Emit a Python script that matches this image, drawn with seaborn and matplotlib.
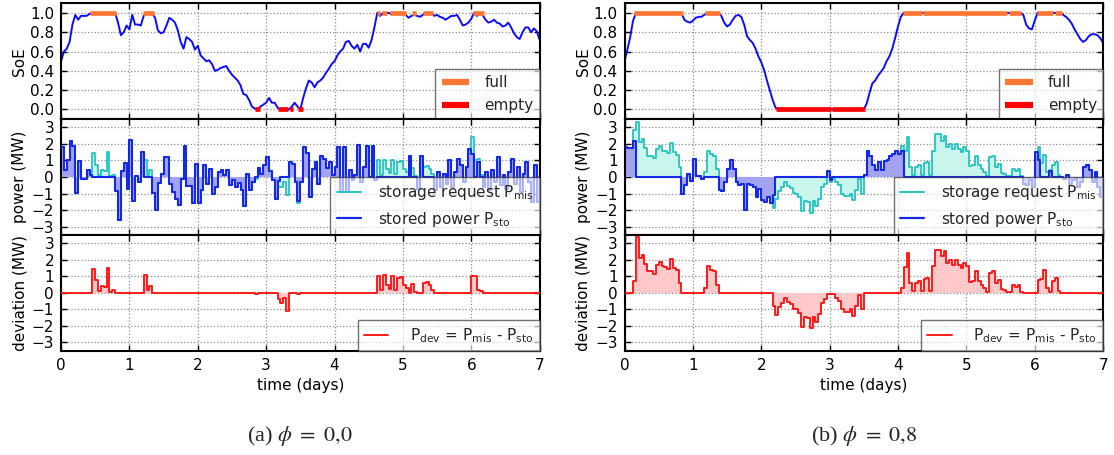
import numpy as np
import pandas as pd
import matplotlib
matplotlib.use("Agg")
import matplotlib.pyplot as plt
from matplotlib.lines import Line2D
import seaborn as sns

# ---------------------------------------------------------------------------
# Hourly data over one week (168 hourly steps, 169 state samples)
# ---------------------------------------------------------------------------

# (a) phi = 0.0 : storage request and stored power [MW]
p_mis_a = [
    1.8, 0.4, 1.0, 2.2, 1.9, -0.95, 0.95, -0.1, -0.1, 0.4,
    0.1, 1.45, 0.75, 0.1, 0.4, 0.35, 1.5, 0.05, 0.15, -0.85,
    -2.6, 0.35, 0.85, -0.7, 2.25, -1.45, 0.05, -0.3, 1.5, 1.05,
    0.15, 0.4, -0.95, -2.0, -0.35, 0.2, 1.2, 1.2, -0.4, -0.9,
    -1.3, -1.7, -0.1, 1.9, -0.55, -0.55, -1.6, 0.8, -1.55, -0.8,
    0.7, -0.45, 0.5, -1.0, -0.6, 0.3, 0.45, 0.1, 0.45, -0.5,
    -0.2, -0.6, -0.35, -0.8, -1.75, 0.2, -0.8, -0.3, -0.1, 0.55,
    0.2, 0.75, 1.2, 0.35, -0.2, -1.3, -0.6, -0.6, -0.3, -1.1,
    0.9, 0.8, -0.3, -1.55, -0.3, 1.8, 1.45, -1.2, 0.5, 0.9,
    -0.4, 1.3, 1.1, 0.55, 0.9, 0.1, 0.6, 1.8, -0.9, 1.8,
    -0.9, 0.4, -0.2, 0.1, 1.95, -0.3, 0.6, 1.85, 0.0, 1.9,
    -0.2, 1.0, 0.15, 1.05, 0.5, 0.25, 1.0, 0.2, 0.9, 0.95,
    0.5, 0.3, 1.3, 0.55, 0.05, -0.7, 1.3, 0.6, 0.65, 0.5,
    0.2, -0.8, 0.3, -0.6, 0.2, -0.4, 1.0, -0.6, 0.3, 1.1,
    0.7, -0.3, 0.6, 1.7, 2.4, 1.0, 1.1, 0.1, -0.6, 0.3,
    -0.8, 0.4, -0.3, 1.2, -0.5, 0.1, -0.7, 0.3, 1.1, -0.4,
    0.6, -0.9, 0.2, 0.9, -0.3, -1.5, 0.7, -1.5,
]
p_sto_a = [
    1.8, 0.4, 1.0, 2.2, 1.9, -0.95, 0.95, -0.1, -0.1, 0.4,
    0.1, 0.0, 0.0, 0.0, 0.0, 0.0, 0.0, 0.0, 0.0, -0.85,
    -2.6, 0.35, 0.85, -0.7, 2.25, -1.45, 0.05, -0.3, 1.5, 0.0,
    0.0, 0.0, -0.95, -2.0, -0.35, 0.2, 1.2, 1.2, -0.4, -0.9,
    -1.3, -1.7, -0.1, 1.9, -0.55, -0.55, -1.6, 0.8, -1.55, -0.8,
    0.7, -0.45, 0.5, -1.0, -0.6, 0.3, 0.45, 0.1, 0.45, -0.5,
    -0.2, -0.6, -0.35, -0.8, -1.75, 0.2, -0.8, -0.3, 0.0, 0.55,
    0.2, 0.75, 1.2, 0.35, -0.2, -1.3, -0.25, 0.0, 0.0, 0.0,
    0.9, 0.8, -0.3, -1.45, -0.3, 1.8, 1.45, -1.2, 0.5, 0.9,
    -0.4, 1.3, 1.1, 0.55, 0.9, 0.1, 0.6, 1.8, -0.9, 1.8,
    -0.9, 0.4, -0.2, 0.1, 1.95, -0.3, 0.6, 1.85, 0.0, 1.9,
    -0.2, 0.0, 0.0, 0.0, 0.0, 0.0, 0.0, 0.0, 0.0, 0.0,
    0.0, 0.0, 1.3, 0.0, 0.0, -0.7, 1.3, 0.0, 0.0, 0.0,
    0.0, -0.8, 0.3, -0.6, 0.2, -0.4, 1.0, -0.6, 0.3, 1.1,
    0.7, -0.3, 0.6, 1.7, 1.4, 0.0, 0.9, 0.0, -0.6, 0.3,
    -0.8, 0.4, -0.3, 1.2, -0.5, 0.1, -0.7, 0.3, 1.1, -0.4,
    0.6, -0.9, 0.2, 0.9, -0.3, -1.5, 0.7, -1.5,
]

# (a) state of energy (normalised)
soe_a = [
    0.50, 0.60, 0.63, 0.70, 0.88, 0.98, 0.93, 0.97, 0.97, 0.97,
    0.99, 1.00, 1.00, 1.00, 1.00, 1.00, 1.00, 1.00, 1.00, 1.00,
    0.90, 0.77, 0.80, 0.87, 0.83, 0.98, 0.88, 0.88, 0.87, 0.97,
    1.00, 1.00, 1.00, 0.95, 0.82, 0.79, 0.80, 0.87, 0.95, 0.93,
    0.90, 0.82, 0.70, 0.63, 0.75, 0.73, 0.70, 0.62, 0.66, 0.56,
    0.53, 0.50, 0.51, 0.47, 0.40, 0.41, 0.43, 0.44, 0.45, 0.40,
    0.36, 0.33, 0.30, 0.25, 0.16, 0.15, 0.10, 0.03, 0.01, 0.00,
    0.03, 0.05, 0.07, 0.12, 0.07, 0.07, 0.02, 0.00, 0.00, 0.00,
    0.00, 0.03, 0.07, 0.03, 0.00, 0.12, 0.22, 0.30, 0.28, 0.23,
    0.28, 0.30, 0.33, 0.38, 0.42, 0.47, 0.50, 0.56, 0.60, 0.63,
    0.70, 0.71, 0.66, 0.63, 0.67, 0.60, 0.68, 0.68, 0.64, 0.72,
    0.85, 1.00, 0.97, 1.00, 1.00, 1.00, 0.99, 1.00, 1.00, 1.00,
    1.00, 0.98, 0.95, 0.97, 0.98, 0.97, 0.96, 0.98, 1.00, 1.00,
    1.00, 0.97, 0.98, 0.96, 0.95, 0.93, 0.95, 0.97, 0.97, 0.98,
    0.93, 0.87, 0.88, 0.90, 0.94, 1.00, 0.97, 0.99, 0.98, 0.93,
    0.90, 0.91, 0.93, 0.90, 0.89, 0.86, 0.87, 0.90, 0.85, 0.79,
    0.75, 0.73, 0.80, 0.85, 0.85, 0.80, 0.84, 0.81, 0.72,
]

# (a) storage full / empty intervals [days]
full_start_a = [0.42, 1.20, 4.62, 4.69, 4.81, 5.14, 5.29, 6.02]
full_end_a = [0.81, 1.36, 4.67, 4.77, 5.05, 5.19, 5.44, 6.18]
empty_start_a = [2.84, 3.17, 3.35, 3.46]
empty_end_a = [2.91, 3.32, 3.40, 3.54]

# (b) phi = 0.8 : storage request and stored power [MW]
p_mis_b = [
    1.8, 1.75, 1.75, 2.85, 3.35, 2.1, 2.3, 1.75, 1.3, 1.3,
    1.15, 1.7, 1.85, 1.6, 1.55, 1.45, 2.05, 1.5, 1.35, 0.6,
    -1.05, -0.5, 0.2, -0.25, 1.1, 0.05, 0.05, -0.1, 0.3, 1.6,
    1.4, 1.3, 0.5, -0.8, -0.85, -0.3, 0.5, 1.0, 0.5, -0.3,
    -0.5, -0.45, -2.0, -0.4, -0.5, -0.6, -1.2, -0.7, -1.4, -1.5,
    -1.2, -1.6, -1.9, -1.35, -0.85, -0.6, -0.3, -0.55, -0.65, -0.95,
    -1.0, -1.2, -2.05, -1.45, -1.5, -2.15, -1.45, -1.75, -1.3, -0.6,
    -0.4, 0.3, -0.3, -0.1, -0.3, -0.5, -1.0, -1.15, -1.15, -1.0,
    -1.4, -0.8, -0.15, -1.0, 0.1, 1.6, 1.25, 0.75, 0.4, 0.9,
    0.4, 0.95, 1.0, 1.3, 1.4, 1.55, 1.4, 1.9, 1.55, 2.4,
    0.6, 0.1, 0.6, 0.7, 0.1, 0.85, 0.9, 0.1, 1.6, 2.6,
    2.6, 2.2, 2.5, 1.8, 2.0, 1.7, 2.0, 1.7, 1.5, 1.8,
    1.6, 0.65, 0.7, 1.3, 0.7, 0.5, 0.3, 0.05, 1.2, 1.3,
    0.6, 0.8, 0.25, 0.2, 0.05, 0.05, 0.5, 0.35, 0.5, 0.05,
    -0.4, -0.5, -0.2, -0.6, 1.5, 1.8, 0.85, 1.35, 0.3, 0.4,
    0.7, 0.9, 0.1, 0.0, -0.1, 0.15, -0.4, -0.2, -0.1, -0.6,
    -0.3, 0.6, 0.7, 0.45, -0.3, 0.3, -0.6, -1.2,
]
p_sto_b = [
    1.8, 1.75, 1.75, 2.15, 0.0, 0.0, 0.0, 0.0, 0.0, 0.0,
    0.0, 0.0, 0.0, 0.0, 0.0, 0.0, 0.0, 0.0, 0.0, 0.0,
    -1.05, -0.5, 0.2, -0.25, 1.1, 0.05, 0.05, -0.1, 0.0, 0.0,
    0.0, 0.0, 0.0, -0.8, -0.85, -0.3, 0.5, 1.0, 0.5, -0.3,
    -0.5, -0.45, -2.0, -0.4, -0.5, -0.6, -1.2, -0.7, -1.4, -1.5,
    -1.2, -1.6, -1.1, 0.0, 0.0, 0.0, 0.0, 0.0, 0.0, 0.0,
    0.0, 0.0, 0.0, 0.0, 0.0, 0.0, 0.0, 0.0, 0.0, 0.0,
    0.0, 0.35, -0.2, 0.0, 0.0, 0.0, 0.0, 0.0, 0.0, 0.0,
    0.0, 0.0, 0.0, 0.0, 0.1, 1.6, 1.25, 0.75, 0.4, 0.9,
    0.4, 0.95, 1.0, 1.3, 1.4, 1.55, 1.4, 1.6, 0.0, 0.0,
    0.0, 0.0, 0.0, 0.0, 0.0, 0.0, 0.0, 0.0, 0.0, 0.0,
    0.0, 0.0, 0.0, 0.0, 0.0, 0.0, 0.0, 0.0, 0.0, 0.0,
    0.0, 0.0, 0.0, 0.0, 0.0, 0.0, 0.0, 0.0, 0.0, 0.0,
    0.0, 0.0, 0.0, 0.0, 0.0, 0.0, 0.0, 0.0, 0.0, 0.0,
    -0.4, -0.5, -0.2, -0.6, 1.5, 1.0, 0.0, 0.0, 0.0, 0.35,
    0.0, 0.0, 0.0, 0.0, -0.1, 0.15, -0.4, -0.2, -0.1, -0.6,
    -0.3, 0.6, 0.7, 0.45, -0.3, 0.3, -0.6, -1.2,
]

# (b) state of energy (normalised)
soe_b = (
    [0.50, 0.62, 0.75, 0.92]
    + [1.00] * 17
    + [0.93, 0.91, 0.90, 0.92, 0.95, 0.96, 0.96, 0.98]
    + [1.00] * 5
    + [0.97, 0.90, 0.86, 0.88, 0.93, 0.97, 0.98, 0.96, 0.88, 0.76,
       0.72, 0.69, 0.63, 0.55, 0.49, 0.41, 0.30, 0.20, 0.10, 0.02]
    + [0.00] * 18
    + [0.01]
    + [0.00] * 12
    + [0.06, 0.17, 0.27, 0.30, 0.35, 0.39, 0.43, 0.50, 0.55, 0.63,
       0.74, 0.86, 0.96]
    + [1.00] * 42
    + [0.98, 0.88, 0.84, 0.83, 0.92]
    + [1.00] * 9
    + [0.98, 0.96, 0.93, 0.89, 0.83, 0.78, 0.73, 0.70, 0.72, 0.76,
       0.78, 0.78, 0.77, 0.74, 0.69]
)

# (b) storage full / empty intervals [days]
full_start_b = [0.14, 1.18, 4.07, 4.37, 5.63, 6.04, 6.29]
full_end_b = [0.86, 1.40, 4.35, 5.60, 5.80, 6.27, 6.40]
empty_start_b = [2.22, 3.04]
empty_end_b = [3.02, 3.52]

captions = [r"(a) $\phi\ =\ 0{,}0$", r"(b) $\phi\ =\ 0{,}8$"]

# ---------------------------------------------------------------------------
# Styling
# ---------------------------------------------------------------------------
sns.set_style("white")
plt.rcParams.update({
    "font.family": ["DejaVu Sans"],
    "font.size": 11,
    "mathtext.fontset": "stix",
    "axes.edgecolor": "black",
    "axes.linewidth": 1.5,
    "axes.grid": True,
    "grid.color": "0.55",
    "grid.linestyle": ":",
    "grid.linewidth": 0.9,
    "xtick.direction": "in",
    "ytick.direction": "in",
    "xtick.bottom": True,
    "xtick.top": True,
    "ytick.left": True,
    "ytick.right": True,
    "xtick.major.size": 4,
    "ytick.major.size": 4,
    "xtick.major.width": 1.0,
    "ytick.major.width": 1.0,
    "xtick.major.pad": 5,
    "ytick.major.pad": 5,
    "xtick.color": "black",
    "ytick.color": "black",
    "xtick.labelsize": 11,
    "ytick.labelsize": 11,
    "axes.labelsize": 11,
    "axes.labelcolor": "black",
    "legend.fontsize": 11,
    "legend.fancybox": False,
    "legend.edgecolor": "0.15",
    "legend.framealpha": 0.65,
})

SOE_BLUE = "#0c0cff"
STO_BLUE = "#1428e8"
MIS_CYAN = "#22c4c0"
MIS_FILL = "#c9f6ec"
STO_FILL = "#a3a3f2"
DEV_RED = "#ff1a1a"
DEV_FILL = "#ffc9c9"
FULL_C = "#ff7733"
EMPTY_C = "#ff0000"


def step_frame(values):
    """Hourly step values extended to the end of the last hour."""
    v = np.asarray(values, dtype=float)
    t = np.arange(len(v) + 1) / 24.0
    return pd.DataFrame({"t": t, "v": np.append(v, v[-1])})


def draw_panel(axes, soe, fs, fe, es, ee, p_mis, p_sto):
    ax0, ax1, ax2 = axes
    p_mis = np.asarray(p_mis, dtype=float)
    p_sto = np.asarray(p_sto, dtype=float)
    p_dev = p_mis - p_sto

    # --- state of energy ---------------------------------------------------
    soe_df = pd.DataFrame({"t": np.arange(len(soe)) / 24.0, "soe": soe})
    sns.lineplot(data=soe_df, x="t", y="soe", ax=ax0, color=SOE_BLUE,
                 lw=1.4, estimator=None, sort=False)
    ax0.hlines(np.ones(len(fs)), fs, fe, color=FULL_C, lw=3.4,
               capstyle="butt", zorder=4)
    ax0.hlines(np.zeros(len(es)), es, ee, color=EMPTY_C, lw=3.4,
               capstyle="butt", zorder=4)
    ax0.set_ylim(-0.1, 1.1)
    ax0.set_yticks(np.arange(0, 1.01, 0.2))
    ax0.set_ylabel("SoE")
    ax0.legend(handles=[Line2D([], [], color=FULL_C, lw=4.5, solid_capstyle="butt"),
                        Line2D([], [], color=EMPTY_C, lw=4.5, solid_capstyle="butt")],
               labels=["full", "empty"], loc="lower right", borderaxespad=0,
               handlelength=1.8, handletextpad=1.0)

    # --- power -------------------------------------------------------------
    mis_df = step_frame(p_mis)
    sto_df = step_frame(p_sto)
    ax1.fill_between(mis_df["t"], mis_df["v"], sto_df["v"], step="post",
                     color=MIS_FILL, lw=0, zorder=1)
    ax1.fill_between(sto_df["t"], sto_df["v"], 0, step="post",
                     color=STO_FILL, lw=0, zorder=1.5)
    sns.lineplot(data=mis_df, x="t", y="v", ax=ax1, color=MIS_CYAN, lw=1.3,
                 drawstyle="steps-post", estimator=None, sort=False, zorder=2)
    sns.lineplot(data=sto_df, x="t", y="v", ax=ax1, color=STO_BLUE, lw=1.5,
                 drawstyle="steps-post", estimator=None, sort=False, zorder=3)
    ax1.set_ylim(-3.5, 3.5)
    ax1.set_yticks(np.arange(-3, 4, 1))
    ax1.set_ylabel("power (MW)")
    ax1.legend(handles=[Line2D([], [], color=MIS_CYAN, lw=1.4),
                        Line2D([], [], color=STO_BLUE, lw=1.6)],
               labels=[r"storage request P$_\mathregular{mis}$",
                       r"stored power P$_\mathregular{sto}$"],
               loc="lower right", borderaxespad=0, handlelength=1.6,
               handletextpad=1.1)

    # --- deviation ---------------------------------------------------------
    dev_df = step_frame(p_dev)
    ax2.fill_between(dev_df["t"], dev_df["v"], 0, step="post",
                     color=DEV_FILL, lw=0, zorder=1)
    sns.lineplot(data=dev_df, x="t", y="v", ax=ax2, color=DEV_RED, lw=1.4,
                 drawstyle="steps-post", estimator=None, sort=False, zorder=3)
    ax2.set_ylim(-3.5, 3.5)
    ax2.set_yticks(np.arange(-3, 4, 1))
    ax2.set_ylabel("deviation (MW)")
    ax2.legend(handles=[Line2D([], [], color=DEV_RED, lw=1.4)],
               labels=[r"P$_\mathregular{dev}$ = P$_\mathregular{mis}$ - P$_\mathregular{sto}$"],
               loc="lower right", borderaxespad=0, handlelength=1.6,
               handletextpad=1.4)
    ax2.set_xlabel("time (days)")

    for ax in axes:
        ax.set_xlim(0, 7)
        ax.set_xticks(range(8))
        ax.set_axisbelow(True)
        ax.grid(True, which="major")
        ax.yaxis.set_label_coords(-0.071, 0.5)
        ax.yaxis.label.set_va("bottom")
        for s in ax.spines.values():
            s.set_linewidth(1.5)
            s.set_color("black")
    for ax in (ax0, ax1):
        ax.tick_params(labelbottom=False)
        ax.set_xlabel("")


fig = plt.figure(figsize=(11.14, 4.55), dpi=100)
row_h = 0.2545
bottoms = [0.2292 + 2 * row_h, 0.2292 + row_h, 0.2292]
lefts = [0.0548, 0.5606]
width = 0.4296

panels = [
    (soe_a, full_start_a, full_end_a, empty_start_a, empty_end_a, p_mis_a, p_sto_a),
    (soe_b, full_start_b, full_end_b, empty_start_b, empty_end_b, p_mis_b, p_sto_b),
]

for left, caption, data in zip(lefts, captions, panels):
    axes = [fig.add_axes([left, b, width, row_h]) for b in bottoms]
    draw_panel(axes, *data)
    fig.text(left + width / 2, 0.042, caption, ha="center", va="center",
             fontsize=16, family="Liberation Serif")

fig.savefig("out.png", dpi=100)
